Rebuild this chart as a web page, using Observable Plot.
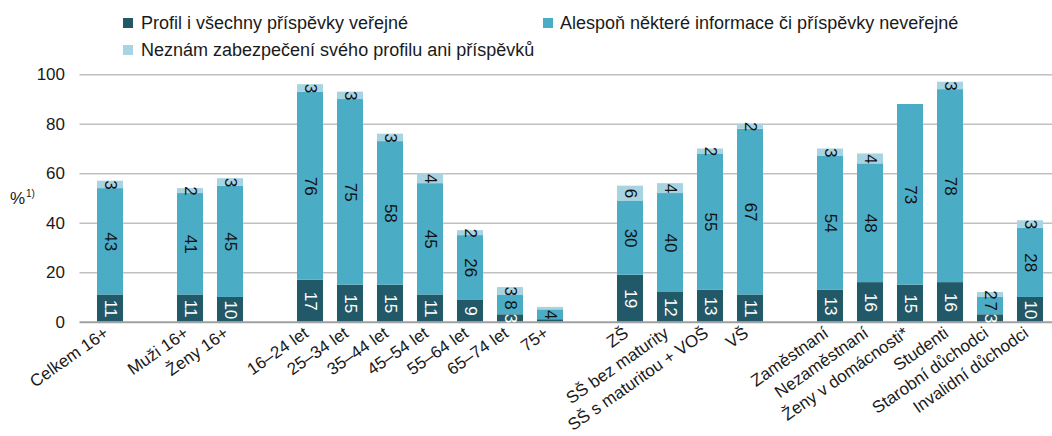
<!DOCTYPE html>
<html>
<head>
<meta charset="utf-8">
<script src="https://cdn.jsdelivr.net/npm/d3@7"></script>
<script src="https://cdn.jsdelivr.net/npm/@observablehq/plot@0.6"></script>
<style>
  html, body { margin: 0; padding: 0; background: #fff; overflow: hidden; }
  body { width: 1052px; height: 436px; font-family: "Liberation Sans", Arial, sans-serif; color: #1a1a1a; }
  #legend { position: relative; height: 62px; width: 1052px; font-size: 18px; }
  .item { position: absolute; white-space: nowrap; line-height: 1; }
  .sw { position: absolute; width: 10px; height: 10px; }
</style>
</head>
<body>
<div id="legend"></div>
<div id="chart"></div>
<script>
// ---- data ----
const categories = [
  "Celkem 16+",
  "Muži 16+", "Ženy 16+",
  "16–24 let", "25–34 let", "35–44 let", "45–54 let", "55–64 let", "65–74 let", "75+",
  "ZŠ", "SŠ bez maturity", "SŠ s maturitou + VOŠ", "VŠ",
  "Zaměstnaní", "Nezaměstnaní", "Ženy v domácnosti*", "Studenti", "Starobní důchodci", "Invalidní důchodci"
];
const groupBreaksAfter = ["Celkem 16+", "Ženy 16+", "75+", "VŠ"];
const seriesNames = [
  "Profil i všechny příspěvky veřejné",
  "Alespoň některé informace či příspěvky neveřejné",
  "Neznám zabezpečení svého profilu ani příspěvků"
];
const profilVerejne     = [11, 11, 10, 17, 15, 15, 11, 9, 3, 1, 19, 12, 13, 11, 13, 16, 15, 16, 3, 10];
const castecneNeverejne = [43, 41, 45, 76, 75, 58, 45, 26, 8, 4, 30, 40, 55, 67, 54, 48, 73, 78, 7, 28];
const neznam            = [3, 2, 3, 3, 3, 3, 4, 2, 3, 1, 6, 4, 2, 2, 3, 4, 0, 3, 2, 3];
const yTicks = [0, 20, 40, 60, 80, 100];
const colors = ["#215968", "#4bacc6", "#a8d3e0"];
const labelColors = ["#ffffff", "#111111", "#111111"];

// ---- build table ----
const valuesBySeries = [profilVerejne, castecneNeverejne, neznam];
const rows = [];
seriesNames.forEach((s, si) => {
  categories.forEach((c, ci) => {
    rows.push({category: c, series: s, si, value: valuesBySeries[si][ci]});
  });
});
// x domain with empty spacer slots between groups
const xDomain = [];
let sp = 0;
categories.forEach(c => {
  xDomain.push(c);
  if (groupBreaksAfter.includes(c)) xDomain.push(" ".repeat(++sp));
});

// ---- legend ----
const legend = document.getElementById("legend");
const legendPos = [
  {x: 123, y: 18, tx: 141},
  {x: 543, y: 18, tx: 560},
  {x: 123, y: 45, tx: 141}
];
seriesNames.forEach((s, i) => {
  const p = legendPos[i];
  const sw = document.createElement("div");
  sw.className = "sw";
  sw.style.left = p.x + "px"; sw.style.top = p.y + "px"; sw.style.background = colors[i];
  legend.appendChild(sw);
  const t = document.createElement("div");
  t.className = "item";
  t.textContent = s;
  t.style.left = p.tx + "px"; t.style.top = (p.y - 4) + "px";
  legend.appendChild(t);
});

// ---- chart ----
const chart = Plot.plot({
  width: 1052,
  height: 374,
  marginLeft: 79.5,
  marginRight: -8.8,
  marginTop: 12.3,
  marginBottom: 114.3,
  style: {fontFamily: "'Liberation Sans', Arial, sans-serif", fontSize: "17px", color: "#1a1a1a", background: "#fff", overflow: "visible"},
  x: {domain: xDomain, paddingInner: 0.35, paddingOuter: 0.175, label: null},
  y: {domain: [0, 100], label: null},
  color: {domain: seriesNames, range: colors},
  marks: [
    Plot.gridY(yTicks.filter(d => d > 0), {stroke: "#c0c0c0", strokeOpacity: 1, strokeWidth: 1.5}),
    Plot.barY(rows, Plot.stackY({x: "category", y: "value", z: "series", fill: "series", order: null})),
    Plot.ruleY([0], {stroke: "#a0a0a0", strokeWidth: 2}),
    Plot.text(rows, Plot.stackY({
      x: "category", y: "value", z: "series", order: null,
      text: d => d.value >= 2 ? String(d.value) : "",
      rotate: 90, fontSize: 17,
      fill: d => labelColors[d.si]
    })),
    Plot.axisY({ticks: yTicks, tickSize: 0, tickPadding: 15, fontSize: 17, label: null}),
    Plot.axisX({ticks: categories, tickRotate: -35, tickSize: 0, tickPadding: 9, dx: -4, fontSize: 17, label: null}),
    Plot.text(["%"], {frameAnchor: "left", dx: -70, textAnchor: "start", fontSize: 17}),
    Plot.text(["1)"], {frameAnchor: "left", dx: -54, dy: -5, textAnchor: "start", fontSize: 10})
  ]
});
document.getElementById("chart").appendChild(chart);
</script>
</body>
</html>
